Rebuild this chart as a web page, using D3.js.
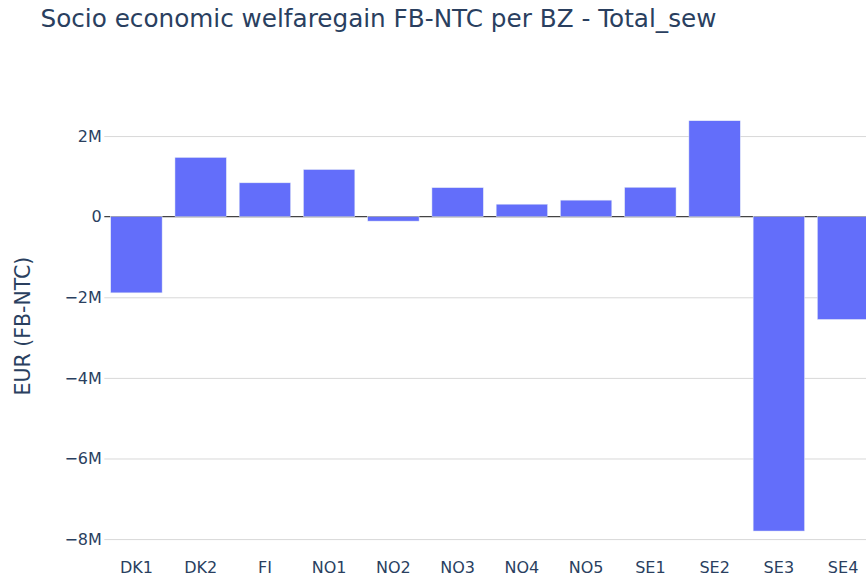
<!DOCTYPE html>
<html>
<head>
<meta charset="utf-8">
<script src="https://cdn.jsdelivr.net/npm/d3@7"></script>
<style>
  html, body { margin: 0; padding: 0; background: #fff; overflow: hidden; }
  text { font-family: "DejaVu Sans", Verdana, sans-serif; fill: #2a3f5f; }
</style>
</head>
<body>
<svg id="chart" width="866" height="579"></svg>
<script>
const titleText = "Socio economic welfaregain FB-NTC per BZ - Total_sew";
const yAxisTitle = "EUR (FB-NTC)";
const categories = ["DK1","DK2","FI","NO1","NO2","NO3","NO4","NO5","SE1","SE2","SE3","SE4"];
const values = [-1.89e6, 1.47e6, 0.84e6, 1.17e6, -0.11e6, 0.72e6, 0.31e6, 0.41e6, 0.73e6, 2.38e6, -7.80e6, -2.55e6];
const yTicks = [-8e6, -6e6, -4e6, -2e6, 0, 2e6];
const yDomain = [-8.33e6, 2.9e6];

const svg = d3.select("#chart");
const plot = { left: 104.3, right: 875.2, top: 99.8, bottom: 552.4 };

const x = d3.scaleBand()
  .domain(categories)
  .range([plot.left, plot.right])
  .paddingInner(0.2)
  .paddingOuter(0.1);

const y = d3.scaleLinear()
  .domain(yDomain)
  .range([plot.bottom, plot.top]);

const fmt = v => v === 0 ? "0" : d3.format("~s")(v);

// gridlines
const yAxis = d3.axisLeft(y).tickValues(yTicks).tickFormat(fmt)
  .tickSize(-(plot.right - plot.left)).tickPadding(3);
const gy = svg.append("g")
  .attr("transform", `translate(${plot.left},0)`)
  .call(yAxis);
gy.select(".domain").remove();
gy.selectAll(".tick line")
  .attr("stroke", d => d === 0 ? "none" : "#d8d8d8")
  .attr("stroke-width", 1);
gy.selectAll(".tick text")
  .attr("font-size", 16)
  .attr("x", -2.5)
  .style("fill", "#2a3f5f");

// zero line
svg.append("line")
  .attr("x1", plot.left).attr("x2", plot.right)
  .attr("y1", y(0)).attr("y2", y(0))
  .attr("stroke", "#444").attr("stroke-width", 1.2);

// bars
svg.append("g").selectAll("rect")
  .data(categories.map((c, i) => ({ c, v: values[i] })))
  .join("rect")
  .attr("x", d => x(d.c))
  .attr("width", x.bandwidth())
  .attr("y", d => y(Math.max(0, d.v)))
  .attr("height", d => Math.abs(y(d.v) - y(0)))
  .attr("fill", "#636efa")
  .attr("stroke", "#e5ecf6")
  .attr("stroke-width", 0.5);

// x axis labels
const xAxis = d3.axisBottom(x).tickSize(0).tickPadding(0);
const gx = svg.append("g")
  .attr("transform", `translate(0,${plot.bottom})`)
  .call(xAxis);
gx.select(".domain").remove();
gx.selectAll(".tick text")
  .attr("font-size", 16)
  .attr("dy", null)
  .attr("y", 20.6)
  .style("fill", "#2a3f5f");

// title
svg.append("text")
  .attr("x", 40.5).attr("y", 26.5)
  .attr("font-size", 24.7)
  .text(titleText);

// y axis title
svg.append("text")
  .attr("transform", `translate(29.5,${(plot.top + plot.bottom) / 2}) rotate(-90)`)
  .attr("text-anchor", "middle")
  .attr("font-size", 20.5)
  .text(yAxisTitle);
</script>
</body>
</html>
